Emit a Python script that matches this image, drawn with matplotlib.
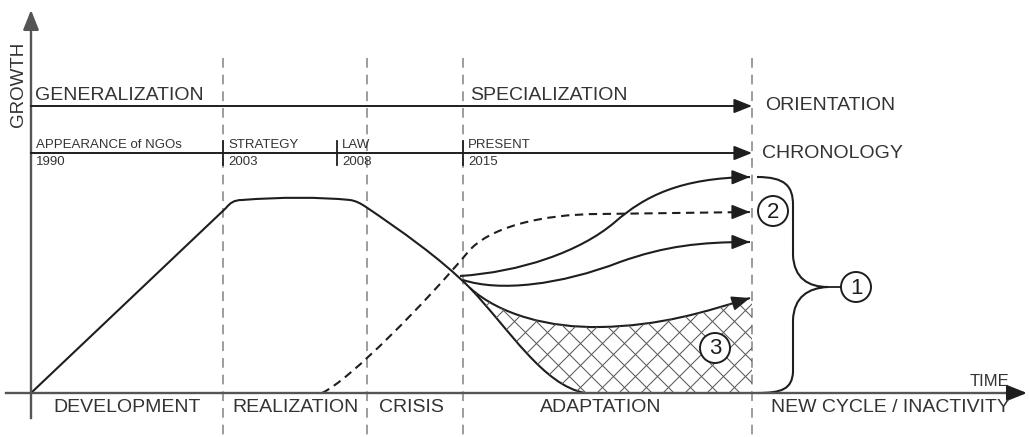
"""Life-cycle diagram of NGO growth: development, realization, crisis, adaptation."""
import numpy as np
import matplotlib
matplotlib.use("Agg")
import matplotlib.pyplot as plt
from matplotlib.path import Path
from matplotlib.patches import PathPatch, Circle

plt.rcParams["font.family"] = ["Liberation Sans", "DejaVu Sans"]
plt.rcParams["lines.scale_dashes"] = False

# --- data (diagram space: x = time, y = growth measured downward) ---
BOUNDS = [223, 367, 463, 752]
PHASES = ["DEVELOPMENT", "REALIZATION", "CRISIS", "ADAPTATION", "NEW CYCLE / INACTIVITY"]
PHASE_X = [127, 295, 411, 601, 890]

MILESTONES = ["APPEARANCE of NGOs", "STRATEGY", "LAW", "PRESENT"]
YEARS = ["1990", "2003", "2008", "2015"]
MILESTONE_X = [31, 223, 337, 463]

# curves: start point, then segments ([p] = line, [c1, c2, p] = cubic)
GROWTH = [(31, 393), [(226, 208)], [(230, 203), (234, 200), (242, 200)],
          [(280, 197), (320, 197), (350, 200)], [(356, 201), (360, 203), (366, 207)],
          [(400, 230), (440, 258), (470, 288)], [(510, 330), (543, 385), (585, 393)]]
DASHED = [(322, 393), [(350, 380), (428, 300), (468, 252)],
          [(488, 228), (540, 214), (600, 214)], [(750, 212)]]
UPPER = [(460, 276), [(520, 272), (580, 252), (615, 222)],
         [(645, 196), (680, 178), (750, 177)]]
MIDDLE = [(463, 280), [(500, 292), (560, 285), (620, 262)],
          [(665, 246), (700, 242), (750, 242)]]
LOWER = [(470, 288), [(500, 315), (550, 328), (600, 327)],
         [(660, 326), (705, 312), (750, 298)]]
DECLINE = [[(752, 298)], [(752, 393)], [(585, 393)],
           [(543, 385), (510, 330), (470, 288)]]
BRACE = [(757, 177), [(785, 177), (793, 186), (793, 205)], [(793, 255)],
         [(794, 278), (808, 287), (828, 287)], [(808, 288), (794, 297), (793, 320)],
         [(793, 372)], [(792, 389), (782, 393), (757, 393)]]

MARKS = ["1", "2", "3"]
MARK_XY = [(856, 287), (773, 211), (715, 348)]

INK = "#1e1e1e"
TEXT = "#333333"
AXIS = "#555555"
GUIDE = "#8c8c8c"


def build(start, segs):
    verts, codes = [start], [Path.MOVETO]
    for seg in segs:
        verts += seg
        codes += [Path.LINETO] if len(seg) == 1 else [Path.CURVE4] * 3
    return Path(verts, codes)


def head(ax, tip, prev, color=INK, lw=1.3, size=11):
    d = np.subtract(tip, prev).astype(float)
    d /= np.hypot(*d)
    ax.annotate("", xy=tip, xytext=tuple(np.array(tip) - d * 14),
                arrowprops=dict(arrowstyle="-|>,head_length=1.0,head_width=0.4",
                                color=color, lw=lw, shrinkA=0, shrinkB=0,
                                mutation_scale=size))


fig = plt.figure(figsize=(10.29, 4.37), dpi=100)
ax = fig.add_axes([0, 0, 1, 1])
ax.set_xlim(0, 1029)
ax.set_ylim(437, 0)
ax.axis("off")

# phase boundaries
ax.vlines(BOUNDS, 58, 437, colors=GUIDE, linestyles=(0, (7, 5)), lw=1.2, zorder=1)

# axes
head(ax, (31, 10), (31, 418), color=AXIS, lw=1.7, size=12)
ax.plot([31, 31], [418, 20], color=AXIS, lw=1.7)
ax.plot([6, 1015], [393, 393], color=AXIS, lw=1.7)
head(ax, (1027, 393), (6, 393), color=INK, lw=1.7, size=12)

# orientation and chronology arrows
for y in (106, 153):
    ax.plot([31, 740], [y, y], color=INK, lw=1.4)
    head(ax, (752, y), (31, y))
for x in MILESTONE_X[1:]:
    ax.plot([x, x], [141, 165], color=INK, lw=1.3)

fs = 14
ax.text(35, 100, "GENERALIZATION", fontsize=fs, color=TEXT, va="baseline")
ax.text(470, 100, "SPECIALIZATION", fontsize=fs, color=TEXT, va="baseline")
ax.text(765, 106, "ORIENTATION", fontsize=fs, color=TEXT, va="center")
ax.text(762, 153, "CHRONOLOGY", fontsize=fs, color=TEXT, va="center")
ax.text(18, 84, "GROWTH", fontsize=13.5, color=TEXT, rotation=90, ha="center", va="center")
ax.text(990, 381, "TIME", fontsize=12, color=TEXT, ha="center", va="center")
for lbl, x in zip(PHASES, PHASE_X):
    ax.text(x, 407, lbl, fontsize=fs, color=TEXT, ha="center", va="center")
for lbl, yr, x in zip(MILESTONES, YEARS, MILESTONE_X):
    ax.text(x + 5, 151, lbl, fontsize=9.5, color=TEXT, va="bottom")
    ax.text(x + 5, 156, yr, fontsize=9.5, color=TEXT, va="top")

# hatched decline area
region = PathPatch(build(LOWER[0], LOWER[1:] + DECLINE), facecolor="none",
                   edgecolor="none")
ax.add_patch(region)
for k in np.arange(0, 2000, 22):
    for ln in (ax.plot([0, 1029], [k, k - 1029], color="#5a5a5a", lw=0.75),
               ax.plot([0, 1029], [k - 1029, k], color="#5a5a5a", lw=0.75)):
        ln[0].set_clip_path(region)

# curves
ax.add_patch(PathPatch(build(GROWTH[0], GROWTH[1:]), fill=False, color=INK, lw=1.5))
ax.add_patch(PathPatch(build(DASHED[0], DASHED[1:]), fill=False, color=INK, lw=1.5,
                       linestyle=(0, (6, 4))))
head(ax, DASHED[-1][-1], (700, 212))
for curve in (UPPER, MIDDLE, LOWER):
    ax.add_patch(PathPatch(build(curve[0], curve[1:]), fill=False, color=INK, lw=1.5))
    head(ax, curve[-1][-1], curve[-1][-2])

# brace and markers
ax.add_patch(PathPatch(build(BRACE[0], BRACE[1:]), fill=False, color=INK, lw=1.5))
ax.plot([828, 841], [287, 287], color=INK, lw=1.3)
for m, (x, y) in zip(MARKS, MARK_XY):
    ax.add_patch(Circle((x, y), 15, facecolor="white", edgecolor=INK, lw=1.4, zorder=5))
    ax.text(x, y + 1, m, fontsize=16, color=INK, ha="center", va="center", zorder=6)

fig.savefig("out.png", dpi=100)
